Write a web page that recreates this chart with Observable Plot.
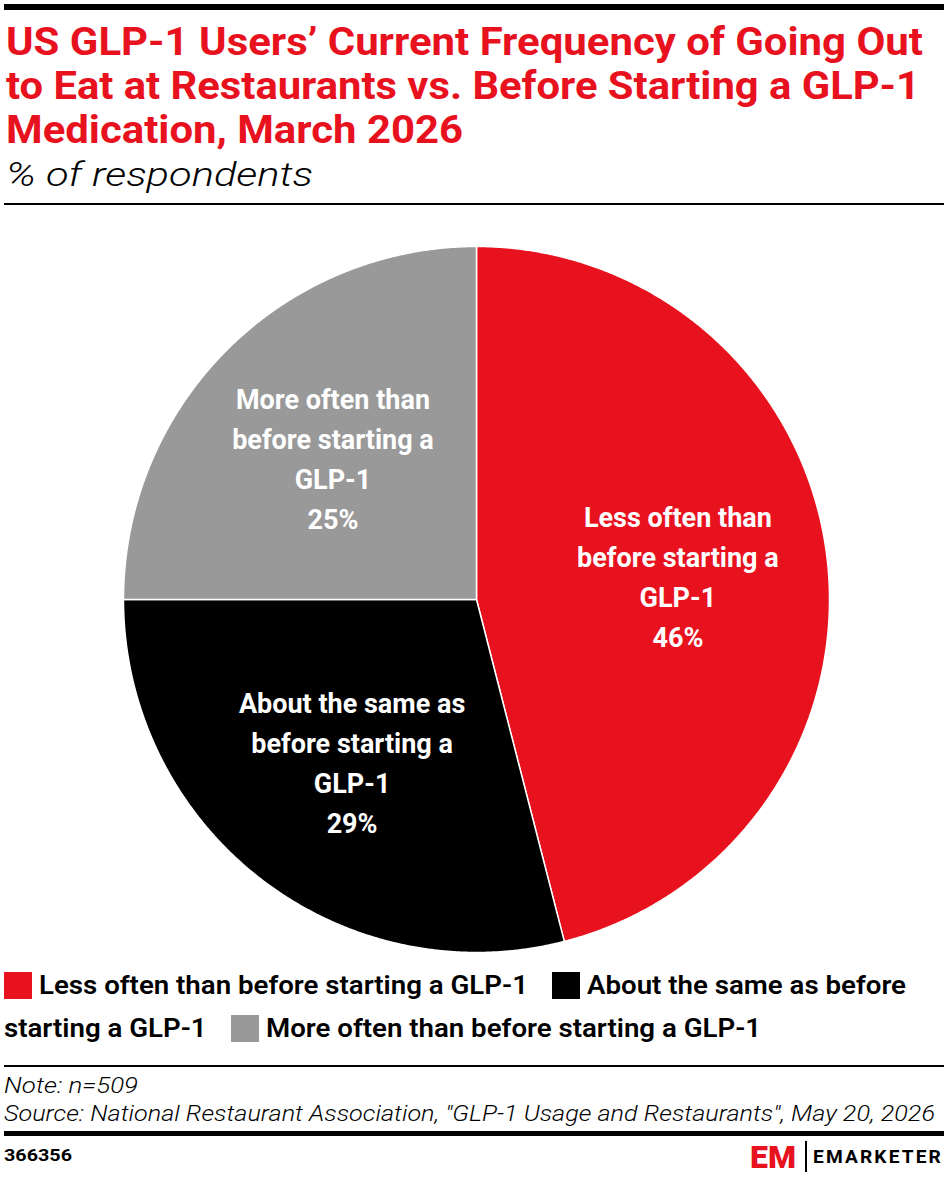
<!DOCTYPE html>
<html><head><meta charset="utf-8">
<script src="https://cdn.jsdelivr.net/npm/d3@7"></script>
<script src="https://cdn.jsdelivr.net/npm/@observablehq/plot@0.6"></script>
<style>
html,body{margin:0;padding:0;background:#fff;}
#root{position:relative;width:948px;height:1178px;overflow:hidden;font-family:Roboto,"Noto Sans",sans-serif;}
.rule{position:absolute;}
.ln{position:absolute;white-space:nowrap;transform-origin:0 0;}
</style></head>
<body><div id="root"></div>
<script>
// ---- data ----
const titleLines = [
  "US GLP-1 Users\u2019 Current Frequency of Going Out",
  "to Eat at Restaurants vs. Before Starting a GLP-1",
  "Medication, March 2026"
];
const subtitle = "% of respondents";
const categories = [
  "Less often than before starting a GLP-1",
  "About the same as before starting a GLP-1",
  "More often than before starting a GLP-1"
];
const values = [46, 29, 25];
const colors = ["#e8111e", "#000000", "#999999"];
const noteText = "Note: n=509";
const sourceText = 'Source: National Restaurant Association, "GLP-1 Usage and Restaurants", May 20, 2026';
const chartId = "366356";
const brand = "EMARKETER";

// ---- helpers ----
const root = document.getElementById("root");
function rule(top, height, left = 4, right = 944, color = "#000") {
  const d = document.createElement("div");
  d.className = "rule";
  d.style.cssText = `left:${left}px;top:${top}px;width:${right - left}px;height:${height}px;background:${color};`;
  root.appendChild(d);
}
function box(left, top, w, h, color) {
  const d = document.createElement("div");
  d.style.cssText = `position:absolute;left:${left}px;top:${top}px;width:${w}px;height:${h}px;background:${color};`;
  root.appendChild(d);
}
// one text line with given baseline, fitted horizontally to a target width
function textLine(txt, o) {
  const L = o.lh || Math.round(o.fs * 1.3);
  const d = document.createElement("div");
  d.className = "ln";
  d.textContent = txt;
  d.style.cssText += `left:${o.left}px;top:${o.baseline - L / 2 - 0.3415 * o.fs}px;font-size:${o.fs}px;line-height:${L}px;` +
    `font-weight:${o.weight || 400};font-style:${o.style || "normal"};color:${o.color || "#000"};` +
    (o.ls ? `letter-spacing:${o.ls}px;` : "");
  root.appendChild(d);
  if (o.width) {
    const w = d.getBoundingClientRect().width;
    d.style.transform = `scaleX(${o.width / w})`;
  }
  return d;
}

// ---- header ----
rule(4, 6);
const titleTargets = [917, 914, 457];
titleLines.forEach((t, i) => textLine(t, {left: 6, baseline: 55.5 + 44 * i, fs: 39, lh: 44, weight: 700, color: "#e8111e", width: titleTargets[i]}));
textLine(subtitle, {left: 6, baseline: 186, fs: 34, lh: 40, weight: 300, style: "italic", width: 307});
rule(203, 2);

// ---- pie (Plot) ----
const pie = d3.pie().sort(null).value(d => d.value)(categories.map((c, i) => ({category: c, value: values[i]})));
const slicePts = [];
pie.forEach(a => {
  const n = Math.max(2, Math.ceil((a.endAngle - a.startAngle) / (Math.PI / 720)));
  slicePts.push({category: a.data.category, x: 0, y: 0});
  for (let k = 0; k <= n; k++) {
    const t = a.startAngle + (a.endAngle - a.startAngle) * k / n;
    slicePts.push({category: a.data.category, x: Math.sin(t), y: Math.cos(t)});
  }
  slicePts.push({category: a.data.category, x: 0, y: 0});
});
function wrap(s, max) {
  const out = []; let cur = "";
  s.split(" ").forEach(w => {
    if (cur && (cur + " " + w).length > max) { out.push(cur); cur = w; }
    else cur = cur ? cur + " " + w : w;
  });
  if (cur) out.push(cur);
  return out.join("\n");
}
const labelR = 0.575;
const labels = pie.map(a => {
  const m = (a.startAngle + a.endAngle) / 2;
  return {x: labelR * Math.sin(m), y: labelR * Math.cos(m), text: wrap(a.data.category, 17) + "\n" + a.data.value + "%"};
});

const chart = Plot.plot({
  width: 948, height: 753,
  marginLeft: 123, marginRight: 119, marginTop: 39, marginBottom: 8,
  x: {domain: [-1, 1], axis: null},
  y: {domain: [-1, 1], axis: null},
  color: {domain: categories, range: colors},
  style: {fontFamily: "Roboto, 'Noto Sans', sans-serif", background: "transparent", overflow: "visible"},
  marks: [
    Plot.line(slicePts, {x: "x", y: "y", z: "category", fill: "category", stroke: "white", strokeWidth: 1.5, strokeLinejoin: "round", curve: "linear"}),
    Plot.text(labels, {x: "x", y: "y", text: "text", fill: "white", fontSize: 27, fontWeight: 700, lineHeight: 40 / 27})
  ]
});
chart.style.position = "absolute";
chart.style.left = "0px";
chart.style.top = "207px";
root.appendChild(chart);

// ---- legend (greedy wrap, one element per row fragment) ----
(function () {
  const fs = 26, weight = 600;
  const cv = document.createElement("canvas").getContext("2d");
  cv.font = `${weight} ${fs}px Roboto`;
  const s = 489 / cv.measureText(categories[0]).width;
  const mw = t => cv.measureText(t).width * s;
  const left0 = 4, maxRight = 944, rowGap = 43, swW = 28, swH = 27, swGap = 7, itemGap = 24;
  let baseline = 994, x = left0;
  categories.forEach((c, i) => {
    if (i > 0) x += itemGap;
    box(x, baseline - 22, swW, swH, colors[i]);
    x += swW + swGap;
    let start = x, frag = "";
    c.split(" ").forEach(w => {
      const cand = frag ? frag + " " + w : w;
      if (frag && start + mw(cand) > maxRight) {
        textLine(frag, {left: start, baseline, fs, weight, lh: 32, width: mw(frag)});
        baseline += rowGap; start = left0; frag = w;
      } else frag = cand;
    });
    textLine(frag, {left: start, baseline, fs, weight, lh: 32, width: mw(frag)});
    x = start + mw(frag);
  });
})();

// ---- footer ----
rule(1065, 2);
textLine(noteText, {left: 4, baseline: 1094, fs: 22, lh: 28, weight: 300, style: "italic", width: 134});
textLine(sourceText, {left: 4, baseline: 1122, fs: 22, lh: 28, weight: 300, style: "italic", width: 931});
rule(1131, 5);
textLine(chartId, {left: 4, baseline: 1161, fs: 17, lh: 20, weight: 700, width: 68});
textLine("EM", {left: 750, baseline: 1168, fs: 32, lh: 34, weight: 900, color: "#e8111e", width: 46});
rule(1141, 31, 805, 806.5);
textLine(brand, {left: 813, baseline: 1163, fs: 18, lh: 22, weight: 700, ls: 2, width: 130});
</script>
</body></html>
